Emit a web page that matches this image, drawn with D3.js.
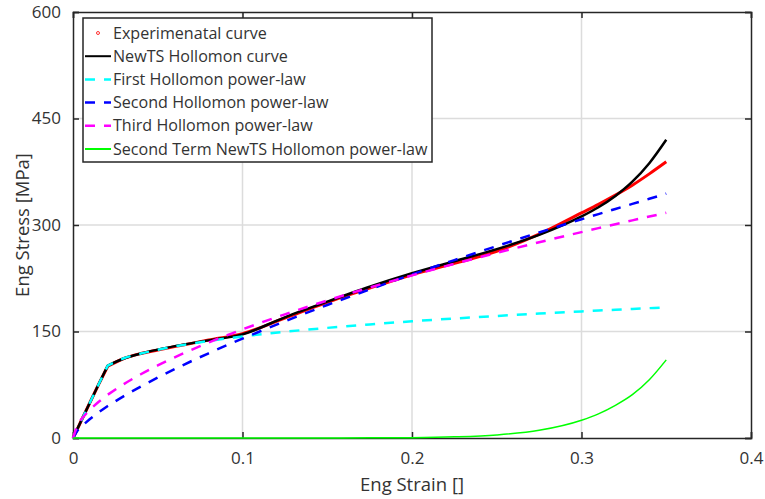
<!DOCTYPE html>
<html lang="en">
<head>
  <meta charset="UTF-8">
  <title>Eng Stress vs Eng Strain</title>
  <script src="https://d3js.org/d3.v7.min.js"></script>
  <style>
    body { margin: 0; background: #fff; }
    text { font-family: "Open Sans", "Noto Sans", sans-serif; fill: #333; }
    .grid line { stroke: #dcdcdc; stroke-width: 1.5px; }
  </style>
</head>
<body>
<svg width="765" height="499"></svg>
<script>
// strain grid used by the curves
const strain = [0, 0.0025, 0.005, 0.01, 0.015, 0.0205, 0.03, 0.04, 0.05, 0.065, 0.08, 0.1,
  0.125, 0.15, 0.175, 0.2, 0.225, 0.25, 0.275, 0.3, 0.31, 0.32, 0.33, 0.34, 0.35];

const experimental = [0, 12, 25, 50, 75, 101, 112, 119, 124, 131, 138, 147,
  169, 191, 211, 230, 246, 263, 287, 317, 329, 342, 356, 372, 389];
const newTS = [0, 12.5, 25, 50, 75, 102, 112, 119, 124.5, 131.5, 137.5, 146,
  170, 192, 213, 232, 249, 266, 286, 312, 325, 341, 361, 387, 420];
const firstHollomon = [0, 12.5, 25, 50, 75, 102, 112.3, 118.9, 124.4, 131.1, 136.7, 143,
  149.6, 155.1, 160, 164.4, 168.3, 171.9, 175.3, 178.3, 179.5, 180.6, 181.8, 182.9, 184];
const secondHollomon = [0, 9.9, 16.3, 26.8, 35.9, 45, 59, 72.5, 85.1, 102.8, 119.3, 140,
  164.3, 187.3, 209.2, 230.3, 250.6, 270.3, 289.5, 308.1, 315.3, 322.6, 329.7, 336.9, 344.2];
const thirdHollomon = [0, 17.9, 26.8, 40.1, 50.7, 61, 75.9, 89.8, 102.2, 119.1, 134.4, 153,
  174.2, 193.7, 211.9, 229, 245.3, 260.8, 275.7, 290, 295.6, 301.1, 306.5, 311.9, 317.2];
const secondTerm = [0, 0, 0, 0, 0, 0, 0, 0, 0, 0, 0, 0,
  0, 0.1, 0.2, 0.5, 1.6, 4.3, 10.8, 25, 34, 46, 61, 82, 110];

const xTicks = [0, 0.1, 0.2, 0.3, 0.4];
const yTicks = [0, 150, 300, 450, 600];

// index where the elastic (straight) part ends
const yieldIdx = 5;

const series = [
  { name: "Experimenatal curve", values: experimental, color: "#ff0000", width: 3, dash: null, marker: true },
  { name: "NewTS Hollomon curve", values: newTS, color: "#000000", width: 2.5, dash: null },
  { name: "First Hollomon power-law", values: firstHollomon, color: "#00ffff", width: 2.5, dash: "10,9" },
  { name: "Second Hollomon power-law", values: secondHollomon, color: "#0000ff", width: 2.5, dash: "10,9" },
  { name: "Third Hollomon power-law", values: thirdHollomon, color: "#ff00ff", width: 2.5, dash: "10,9" },
  { name: "Second Term NewTS Hollomon power-law", values: secondTerm, color: "#00ff00", width: 1.5, dash: null }
];

const svg = d3.select("svg");
const margin = { top: 12, right: 14, bottom: 61, left: 73 };
const width = 765 - margin.left - margin.right,
  height = 499 - margin.top - margin.bottom;

const x = d3.scaleLinear().domain([0, 0.4]).range([0, width]);
const y = d3.scaleLinear().domain([0, 600]).range([height, 0]);

const g = svg.append("g").attr("transform", `translate(${margin.left},${margin.top})`);

// grid
const grid = g.append("g").attr("class", "grid");
grid.selectAll("line.vx").data(xTicks.slice(1, -1)).join("line")
  .attr("x1", d => x(d)).attr("x2", d => x(d)).attr("y1", 0).attr("y2", height);
grid.selectAll("line.hy").data(yTicks.slice(1, -1)).join("line").attr("class", "hy")
  .attr("x1", 0).attr("x2", width).attr("y1", d => y(d)).attr("y2", d => y(d));

// axes (MATLAB style box with inward ticks)
const axisColor = "#262626";
const fmt = d => d === 0 ? "0" : String(d);
const xAxis = g.append("g").attr("transform", `translate(0,${height})`)
  .call(d3.axisBottom(x).tickValues(xTicks).tickSize(-6).tickPadding(14).tickFormat(fmt));
const xTop = g.append("g").call(d3.axisTop(x).tickValues(xTicks).tickSize(-6).tickFormat(""));
const yAxis = g.append("g")
  .call(d3.axisLeft(y).tickValues(yTicks).tickSize(-6).tickPadding(12).tickFormat(fmt));
const yRight = g.append("g").attr("transform", `translate(${width},0)`)
  .call(d3.axisRight(y).tickValues(yTicks).tickSize(-6).tickFormat(""));

[xAxis, xTop, yAxis, yRight].forEach(a => {
  a.select(".domain").attr("stroke", axisColor).attr("stroke-width", 1.5);
  a.selectAll(".tick line").attr("stroke", axisColor).attr("stroke-width", 1.5);
  a.selectAll(".tick text").attr("fill", "#333").style("font-size", "17px")
    .style("font-family", "'Open Sans', 'Noto Sans', sans-serif");
});

// curves: straight elastic part, then a smooth plastic part
const pts = vals => vals.map((v, i) => [x(strain[i]), y(v)]);
const straight = d3.line();
const smooth = d3.line().curve(d3.curveMonotoneX);
function curvePath(vals) {
  const p = pts(vals);
  const a = straight(p.slice(0, yieldIdx + 1));
  const b = smooth(p.slice(yieldIdx)).replace(/^M/, "L");
  return a + b;
}
series.forEach(s => {
  g.append("path")
    .attr("fill", "none")
    .attr("stroke", s.color)
    .attr("stroke-width", s.width)
    .attr("stroke-dasharray", s.dash)
    .attr("stroke-linejoin", "round")
    .attr("d", curvePath(s.values));
});

// axis titles
svg.append("text")
  .attr("x", margin.left + width / 2).attr("y", 491)
  .attr("text-anchor", "middle").style("font-size", "18.5px")
  .text("Eng Strain []");
svg.append("text")
  .attr("transform", `translate(29,${margin.top + height / 2}) rotate(-90)`)
  .attr("text-anchor", "middle").style("font-size", "18.5px")
  .text("Eng Stress [MPa]");

// legend
const legend = svg.append("g").attr("transform", "translate(83,18)");
legend.append("rect")
  .attr("width", 349).attr("height", 144)
  .attr("fill", "#fff").attr("stroke", axisColor).attr("stroke-width", 1.5);
series.forEach((s, i) => {
  const row = legend.append("g").attr("transform", `translate(0,${15 + i * 23.2})`);
  if (s.marker) {
    row.append("circle").attr("cx", 15).attr("cy", 0).attr("r", 1.5)
      .attr("fill", "none").attr("stroke", s.color).attr("stroke-width", 0.8);
  } else {
    row.append("line").attr("x1", 2).attr("x2", 28).attr("y1", 0).attr("y2", 0)
      .attr("stroke", s.color).attr("stroke-width", s.dash ? 2.5 : 2)
      .attr("stroke-dasharray", s.dash);
  }
  row.append("text").attr("x", 30).attr("dy", "0.35em")
    .style("font-size", "16.1px").text(s.name);
});
</script>
</body>
</html>
